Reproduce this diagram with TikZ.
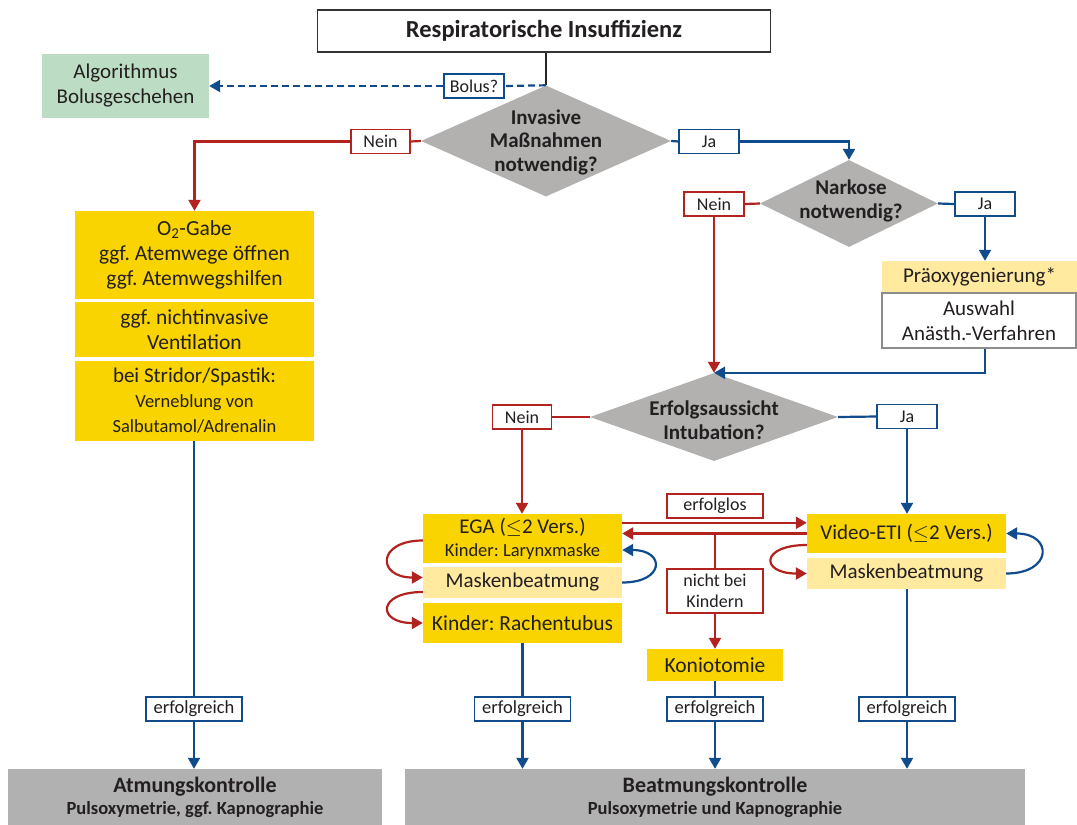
\documentclass[tikz,border=0pt]{standalone}
\usepackage{fontspec}
\setmainfont{Carlito}
\usetikzlibrary{shapes.geometric,arrows.meta}
\definecolor{myblue}{RGB}{16,76,140}
\definecolor{myred}{RGB}{178,34,30}
\definecolor{myyellow}{RGB}{250,212,0}
\definecolor{lightyellow}{RGB}{255,234,160}
\definecolor{diagray}{RGB}{178,177,176}
\definecolor{boxgray}{RGB}{177,177,177}
\definecolor{mygreen}{RGB}{188,221,196}
\definecolor{txt}{RGB}{35,31,32}
\newcommand{\fs}[2]{\fontsize{#1}{#2}\selectfont}
\frenchspacing
\begin{document}
\frenchspacing
\begin{tikzpicture}[x=1pt,y=-1pt,
  box/.style={rectangle, inner sep=0pt, align=center, text=txt, font=\frenchspacing\fs{21}{25}},
  ybox/.style={box, fill=myyellow},
  lybox/.style={box, fill=lightyellow},
  rlab/.style={rectangle, draw=myred, line width=1.1pt, fill=white, inner sep=0pt, align=center, text=txt, font=\fs{18}{21}},
  blab/.style={rectangle, draw=myblue, line width=1.1pt, fill=white, inner sep=0pt, align=center, text=txt, font=\fs{18}{21}},
  dia/.style={diamond, fill=diagray, inner sep=0pt},
  diatext/.style={align=center, text=txt, inner sep=0pt, font=\bfseries\fs{21}{23.5}},
  rline/.style={draw=myred, line width=2.2pt},
  bline/.style={draw=myblue, line width=2.2pt},
  rarr/.style={rline, -{Triangle[width=12pt,length=11pt]}},
  barr/.style={bline, -{Triangle[width=12pt,length=11pt]}},
  ctrl/.style={rectangle, fill=boxgray, inner sep=0pt, align=center, text=txt},
  erfbox/.style={blab, minimum width=96, minimum height=24, font=\fs{18.5}{21}}
]
\useasboundingbox (0,0) rectangle (1077,825);

% top
\node[rectangle, draw=black!80, line width=1.3pt, fill=white, minimum width=453, minimum height=42, text=txt, font=\bfseries\fs{24.5}{28}] (top) at (544,31) {Respiratorische Insuffizienz};
\node[box, fill=mygreen, minimum width=167, minimum height=64] (alg) at (125.5,86) {Algorithmus\\Bolusgeschehen};
\node[blab, minimum width=60, minimum height=24] (bolus) at (474,86) {Bolus?};

% diamond 1
\node[dia, minimum width=250, minimum height=111] (d1) at (546,141) {};
\node[diatext] (d1t) at (546,142) {Invasive\\Maßnahmen\\notwendig?};
\node[rlab, minimum width=59, minimum height=24] (nein1) at (380.5,141.5) {Nein};
\node[blab, minimum width=60, minimum height=24] (ja1) at (709,141.5) {Ja};

% left column
\node[ybox, minimum width=239, minimum height=88, font=\fs{21.5}{25}] (o2) at (194.5,255) {O\textsubscript{2}-Gabe\\ggf. Atemwege öffnen\\ggf. Atemwegshilfen};
\node[ybox, minimum width=239, minimum height=55, font=\fs{21.5}{25}] (niv) at (194.5,329.5) {ggf. nichtinvasive\\Ventilation};
\node[ybox, minimum width=239, minimum height=80] (strid) at (194.5,401) {bei Stridor/Spastik:\\{\fs{18.5}{23.5}Verneblung von}\\{\fs{18.5}{23.5}Salbutamol/Adrenalin}};

% diamond 2
\node[dia, minimum width=178, minimum height=87] (d2) at (849,203.5) {};
\node[diatext] (d2t) at (851,201) {Narkose\\notwendig?};
\node[rlab, minimum width=60, minimum height=24] (nein2) at (714,204) {Nein};
\node[blab, minimum width=60, minimum height=24] (ja2) at (985,204) {Ja};
\node[lybox, minimum width=195, minimum height=32] (prae) at (979.5,277) {Präoxygenierung*};
\node[box, fill=white, draw=black!45, line width=1.3pt, minimum width=194, minimum height=55] (ausw) at (979,320.5) {Auswahl\\Anästh.-Verfahren};

% diamond 3
\node[dia, minimum width=248, minimum height=88] (d3) at (714,417) {};
\node[diatext] (d3t) at (714,420) {Erfolgsaussicht\\Intubation?};
\node[rlab, minimum width=59, minimum height=24] (nein3) at (522,417) {Nein};
\node[blab, minimum width=60, minimum height=24] (ja3) at (907,416.5) {Ja};

% EGA column
\node[ybox, minimum width=199, minimum height=49] (ega) at (522.5,538.5) {EGA ($\le$2 Vers.)\\[-2pt]{\fs{18.5}{20}Kinder: Larynxmaske}};
\node[lybox, minimum width=199, minimum height=31] (mask1) at (522.5,582.5) {Maskenbeatmung};
\node[ybox, minimum width=199, minimum height=40, font=\fs{21.5}{25}] (racht) at (522.5,623) {Kinder: Rachentubus};

% Video column
\node[ybox, minimum width=199, minimum height=39] (video) at (906.5,533.5) {Video-ETI ($\le$2 Vers.)};
\node[lybox, minimum width=199, minimum height=31] (mask2) at (906.5,573.5) {Maskenbeatmung};

% middle
\node[rlab, minimum width=96, minimum height=24] (erfl) at (715,506) {erfolglos};
\node[rlab, minimum width=96, minimum height=44] (nbk) at (715,591) {nicht bei\\Kindern};
\node[ybox, minimum width=136, minimum height=32, font=\fs{21.5}{25}] (konio) at (715,665) {Koniotomie};

% erfolgreich labels
\node[erfbox] (erf1) at (194,709) {erfolgreich};
\node[erfbox] (erf2) at (522.5,709) {erfolgreich};
\node[erfbox] (erf3) at (715,709) {erfolgreich};
\node[erfbox] (erf4) at (907,709) {erfolgreich};

% bottom
\node[ctrl, minimum width=374, minimum height=57] (atm) at (195,797.5) {{\bfseries\fs{22}{24}Atmungskontrolle}\\[4pt]{\bfseries\fs{18.5}{20}Pulsoxymetrie, ggf. Kapnographie}};
\node[ctrl, minimum width=620, minimum height=57] (beat) at (715,797.5) {{\bfseries\fs{22}{24}Beatmungskontrolle}\\[4pt]{\bfseries\fs{18.5}{20}Pulsoxymetrie und Kapnographie}};

% connectors
\draw[draw=black!85, line width=2.2pt] (top.south -| d1.north) -- (d1.north);
\draw[bline, dash pattern=on 7pt off 4pt] (d1.north) -- (bolus.east);
\draw[barr, dash pattern=on 7pt off 4pt] (bolus.west) -- (alg.east);

\draw[rline] (d1.west) -- (nein1.east);
\draw[rarr] (nein1.west) -| (o2.north);
\draw[bline] (d1.east) -- (ja1.west);
\draw[barr] (ja1.east) -| (d2.north);

\draw[rline] (d2.west) -- (nein2.east);
\draw[rarr] (nein2.south) -- (d3.north);
\draw[bline] (d2.east) -- (ja2.west);
\draw[barr] (ja2.south) -- (ja2.south |- prae.north);
\draw[barr] (ausw.south -| ja2.south) |- (d3.north);

\draw[rline] (d3.west) -- (nein3.east);
\draw[rarr] (nein3.south) -- (nein3.south |- ega.north);
\draw[bline] (d3.east) -- (ja3.west);
\draw[barr] (ja3.south) -- (ja3.south |- video.north);

% erfolglos
\draw[rarr] ([yshift=-9pt]ega.north east) -- ([yshift=-9pt]video.north west);
\draw[rarr] (video.west) -- (video.west -| ega.east);
\coordinate (split) at (nbk.north |- video.west);
\draw[rline] (split) -- (nbk.north);
\draw[rarr] (nbk.south) -- (konio.north);

% loops
\draw[rarr] ([yshift=-2pt]ega.west) to[out=180,in=180,looseness=3.2] ([yshift=5pt]mask1.west);
\draw[rarr] ([yshift=-9.5pt]mask1.west) to[out=180,in=180,looseness=3.8] (racht.west);
\draw[barr] (mask1.east) to[out=0,in=0,looseness=3.4] ([yshift=-11.5pt]ega.east);
\draw[rarr] ([yshift=-11.5pt]video.west) to[out=180,in=180,looseness=4.2] (mask2.west);
\draw[barr] (mask2.east) to[out=0,in=0,looseness=3.0] (video.east);

% bottom connectors
\draw[bline] (strid.south -| erf1.north) -- (erf1.north);
\draw[barr] (erf1.south) -- (erf1.south |- atm.north);
\draw[bline] (racht.south) -- (erf2.north);
\draw[barr] (erf2.south) -- (erf2.south |- beat.north);
\draw[bline] (konio.south) -- (erf3.north);
\draw[barr] (erf3.south) -- (erf3.south |- beat.north);
\draw[bline] (mask2.south -| erf4.north) -- (erf4.north);
\draw[barr] (erf4.south) -- (erf4.south |- beat.north);
\end{tikzpicture}
\end{document}
